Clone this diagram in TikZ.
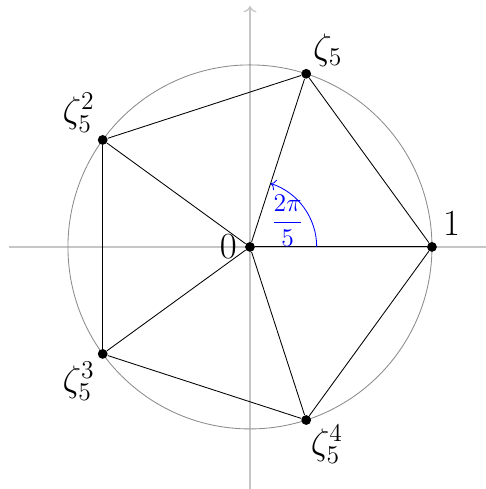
\documentclass[tikz,border=0pt]{standalone}
\usepackage{amsmath,amssymb}
\usetikzlibrary{arrows.meta}

\begin{document}
\begin{tikzpicture}[every node/.style={font=\LARGE}, dot/.style={circle, fill=black, inner sep=0pt, minimum size=4.6pt}]
	\useasboundingbox (-4.12,-3.99) rectangle (3.89,4.07);
	\draw[->, gray!45, semithick] (-3.97,0) -- (4.1,0);
	\draw[->, gray!45, semithick] (0,-4.1) -- (0,3.97);
	\draw[gray!90] (0,0) circle (3);
	\node[dot] (o) at (0,0) {};
	\foreach \k in {0,...,4} {\node[dot] (z\k) at ({72*\k}:3) {};}
	\foreach \k/\n in {0/1, 1/2, 2/3, 3/4, 4/0} {\draw (z\k) -- (z\n); \draw (o) -- (z\k);}
	\draw[blue, ->] (1.1,0) arc[start angle=0, end angle=72, radius=1.1];
	\node[blue, font=\large] (ang) at (0.62,0.43) {$\dfrac{2\pi}{5}$};
	\node[left, inner sep=6pt] (l0) at (o) {$0$};
	\node[above right, inner sep=5pt] (l1) at (z0) {$1$};
	\node[above right, inner sep=3pt] (l2) at (z1) {$\zeta_5$};
	\node[above left, inner sep=3.5pt] (l3) at (z2) {$\zeta_5^2$};
	\node[below left, inner sep=3.5pt] (l4) at (z3) {$\zeta_5^3$};
	\node[below right, inner sep=2pt] (l5) at (z4) {$\zeta_5^4$};
\end{tikzpicture}
\end{document}
